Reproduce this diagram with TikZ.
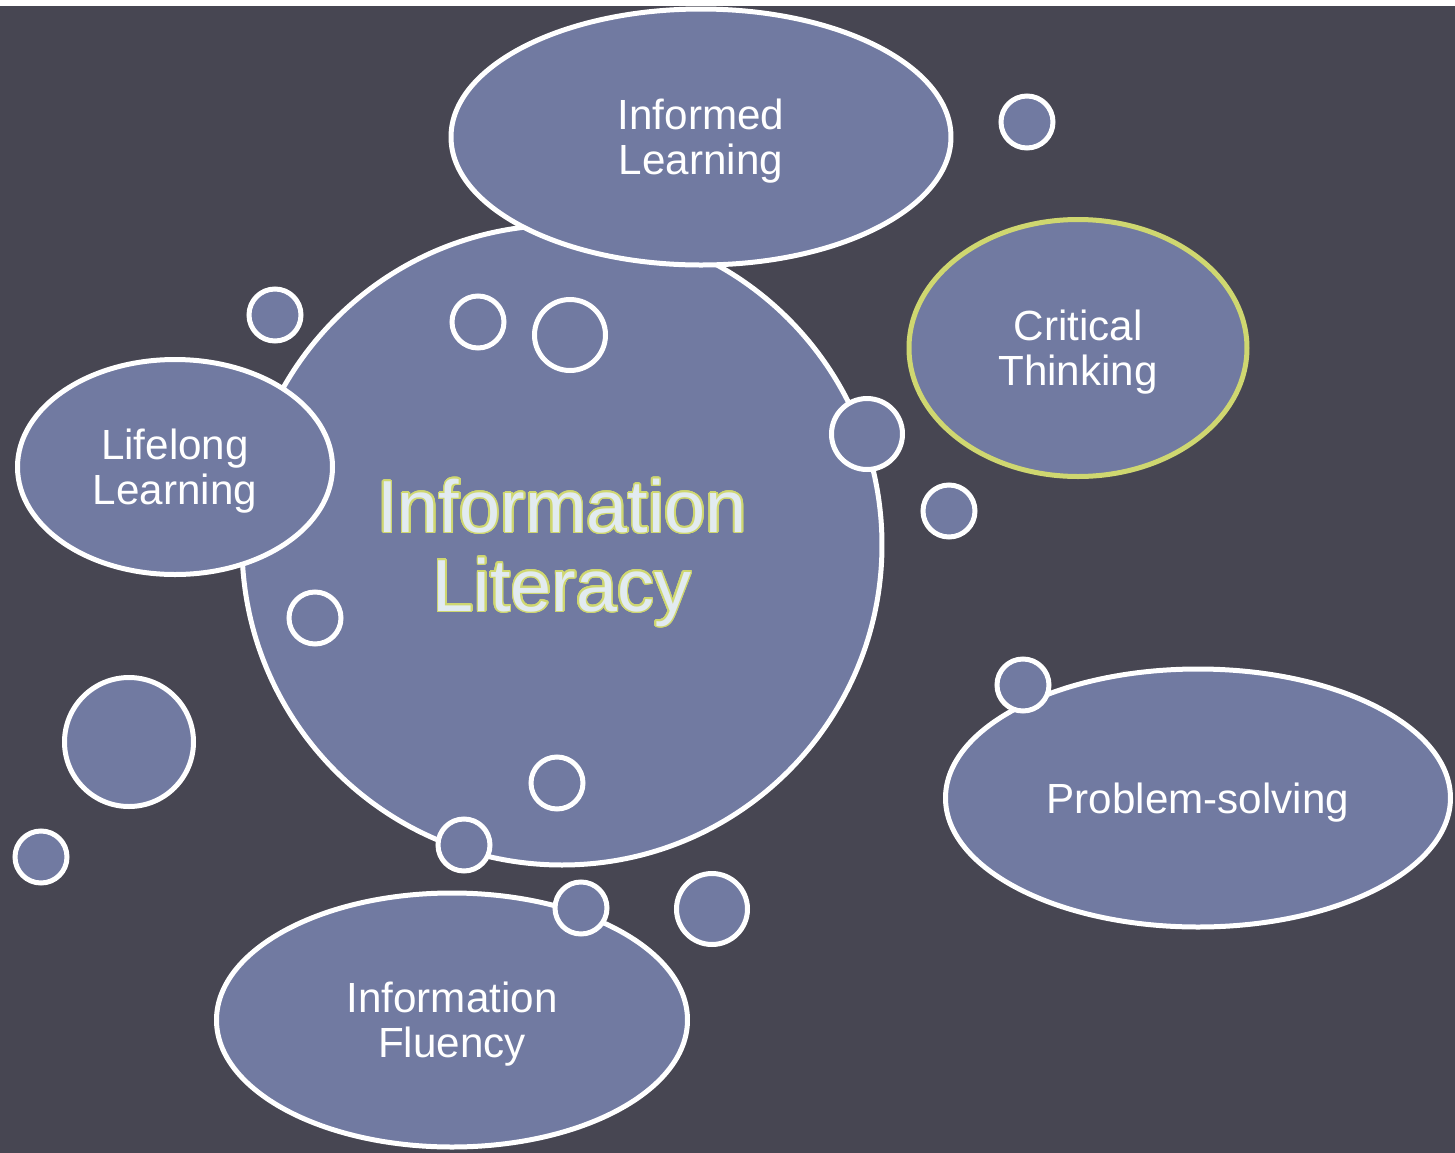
\documentclass[tikz,border=0pt]{standalone}
\usepackage{fontspec}
\setmainfont{Liberation Sans}
\usepackage{contour}
\usetikzlibrary{
    positioning,                      % right=of, below=of, etc.
    shapes.geometric                  % ellipse
}
\definecolor{fondo}{RGB}{71,70,82}
\definecolor{burbuja}{RGB}{113,122,161}
\definecolor{lima}{RGB}{207,215,112}
\definecolor{palido}{RGB}{226,235,240}
\contourlength{0.45pt}
\contournumber{24}
\tikzset{
    bubble/.style={
        circle, draw=white, line width=0.5mm,
        fill=burbuja, inner sep=0pt
    },
    topic/.style={
        ellipse, draw=white, line width=0.5mm,
        fill=burbuja, inner sep=0pt,
        align=center, text=white, text depth=0pt,
        font=\fontsize{12}{12.8}\selectfont
    },
    core/.style={
        bubble, align=center, text=palido, text depth=0pt,
        font=\fontsize{21}{22.4}\selectfont
    }
}

\begin{document}
\begin{tikzpicture}[x=0.1mm, y=-0.1mm]

        \def\bubS{5.2mm}
        \def\bubM{7.1mm}
        \def\bubL{12.9mm}

        % Fondo
        \fill[white] (0,0) rectangle (1455,1153);
        \fill[fondo] (0,6) rectangle (1455,1153);
        \useasboundingbox (0,0) rectangle (1455,1153);

        % Circulo central
        \node[core, minimum size=64mm] (lit) at (562,545)
            {\contour{lima}{Information}\\\contour{lima}{Literacy}};

        % Temas alrededor
        \node[topic, minimum width=50mm, minimum height=25.6mm] (informed) at (701,137)
            {Informed\\Learning};
        \node[topic, draw=lima, minimum width=33.8mm, minimum height=25.7mm] (critical) at (1078,348)
            {Critical\\Thinking};
        \node[topic, minimum width=31.5mm, minimum height=21.5mm] (lifelong) at (175,467)
            {Lifelong\\Learning};
        \node[topic, minimum width=50.5mm, minimum height=25.8mm] (problem) at (1198,798)
            {Problem-solving};
        \node[topic, minimum width=47.1mm, minimum height=25.4mm] (fluency) at (452,1020)
            {Information\\Fluency};

        % Burbujas pequenas
        \foreach \n/\x/\y/\d in {b1/1027/122/\bubS, b2/275/315/\bubS, b3/478/322/\bubS,
                                 b4/570/335/\bubM, b5/867/434/\bubM, b6/949/511/\bubS,
                                 b7/315/618/\bubS, b8/129/742/\bubL, b9/41/857/\bubS,
                                 b10/557/783/\bubS, b11/464/845/\bubS, b12/581/908/\bubS,
                                 b13/712/909/\bubM, b14/1023/685/\bubS}
            \node[bubble, minimum size=\d] (\n) at (\x,\y) {};

\end{tikzpicture}
\end{document}
